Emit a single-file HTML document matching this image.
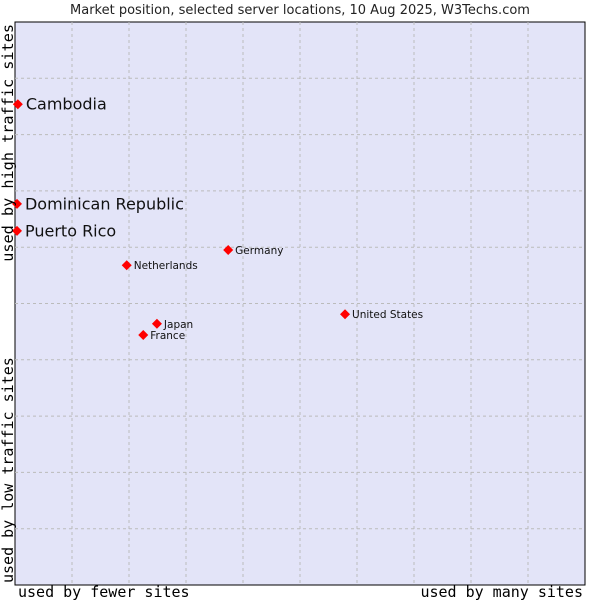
<!DOCTYPE html>
<html><head><meta charset="utf-8"><style>
body{margin:0;background:#fff;width:600px;height:600px;overflow:hidden}
svg{display:block}
</style></head><body>
<svg id="chart" width="600" height="600" xmlns="http://www.w3.org/2000/svg">
<text x="300" y="14" text-anchor="middle" font-family="DejaVu Sans, sans-serif" font-size="13" fill="#222">Market position, selected server locations, 10 Aug 2025, W3Techs.com</text>
<rect x="15" y="22" width="570" height="563" fill="#e3e4f8" stroke="#000" stroke-width="1"/>
<g id="grid"></g>
<g id="points"></g>
<text x="18" y="597" font-family="DejaVu Sans Mono, monospace" font-size="15" fill="#000">used by fewer sites</text>
<text x="583" y="597" text-anchor="end" font-family="DejaVu Sans Mono, monospace" font-size="15" fill="#000">used by many sites</text>
<text transform="translate(13,583) rotate(-90)" font-family="DejaVu Sans Mono, monospace" font-size="15" fill="#000">used by low traffic sites</text>
<text transform="translate(13,24) rotate(-90)" text-anchor="end" font-family="DejaVu Sans Mono, monospace" font-size="15.2" fill="#000">used by high traffic sites</text>
</svg>
<script>
const countries=["Cambodia","Dominican Republic","Puerto Rico","Germany","Netherlands","United States","Japan","France"];
const xValues=[0.5,0.35,0.35,37.4,19.6,57.9,24.9,22.5];
const yValues=[85.4,67.7,62.9,59.5,56.8,48.1,46.4,44.4];
const highlighted=[true,true,true,false,false,false,false,false];
const NS="http://www.w3.org/2000/svg";
const L=15,T=22,W=570,H=563;
const sx=v=>L+v/100*W, sy=v=>T+H-v/100*H;
const grid=document.getElementById('grid');
for(let i=1;i<10;i++){
  const v=document.createElementNS(NS,'line');
  v.setAttribute('x1',sx(i*10));v.setAttribute('x2',sx(i*10));v.setAttribute('y1',T);v.setAttribute('y2',T+H);
  v.setAttribute('stroke','#bbb');v.setAttribute('stroke-dasharray','3,3');
  
  
  grid.appendChild(v);
  const h=document.createElementNS(NS,'line');
  h.setAttribute('y1',sy(i*10));h.setAttribute('y2',sy(i*10));h.setAttribute('x1',L);h.setAttribute('x2',L+W);
  h.setAttribute('stroke','#bbb');h.setAttribute('stroke-dasharray','3,3');
  
  
  grid.appendChild(h);
}
const pts=document.getElementById('points');
countries.forEach((c,i)=>{
  const x=sx(xValues[i]),y=sy(yValues[i]);
  const d=document.createElementNS(NS,'path');
  d.setAttribute('d',`M${x},${y-5}L${x+5},${y}L${x},${y+5}L${x-5},${y}Z`);
  d.setAttribute('fill','#f00');
  
  
  pts.appendChild(d);
  const t=document.createElementNS(NS,'text');
  const big=highlighted[i];
  t.setAttribute('x',x+(big?8:7));t.setAttribute('y',y+(big?5.5:4));
  t.setAttribute('font-family','DejaVu Sans, sans-serif');
  t.setAttribute('font-size',big?16:10.5);
  t.setAttribute('fill','#111');
  t.textContent=c;
  
  
  pts.appendChild(t);
});
</script>
</body></html>
